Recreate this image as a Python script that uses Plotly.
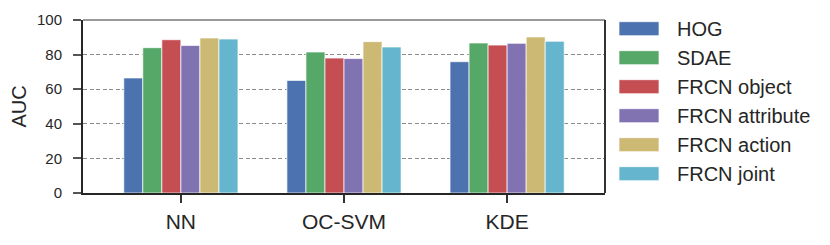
import plotly.graph_objects as go

categories = ["NN", "OC-SVM", "KDE"]
series_names = ["HOG", "SDAE", "FRCN object", "FRCN attribute", "FRCN action", "FRCN joint"]
hog = [66.5, 65.1, 75.9]
sdae = [84.0, 81.5, 86.7]
frcn_object = [88.6, 78.0, 85.5]
frcn_attribute = [85.3, 77.7, 86.5]
frcn_action = [89.6, 87.5, 90.2]
frcn_joint = [89.0, 84.4, 87.7]
series_values = [hog, sdae, frcn_object, frcn_attribute, frcn_action, frcn_joint]
colors = ["#4C72B0", "#55A868", "#C44E52", "#8172B2", "#CCB974", "#64B5CD"]
y_ticks = [0, 20, 40, 60, 80, 100]

FONT = "Liberation Sans, Arial, sans-serif"
OFF = 8  # page body margin
W, H = 830 - OFF, 245 - OFF
L, R, T, B = 83, 605, 20, 193  # plot area in window pixels

fig = go.Figure()
for name, vals, col in zip(series_names, series_values, colors):
    fig.add_trace(go.Bar(
        x=categories, y=vals, name=name,
        marker=dict(color=col, line=dict(color="rgba(255,255,255,0.7)", width=1)),
        showlegend=False,
    ))

def px_x(p):
    return (p - L) / (R - L)

def px_y(p):
    return (B - p) / (B - T)

shapes = []
annotations = []
# top and right spines
shapes.append(dict(type="line", xref="paper", yref="paper", x0=0, x1=1, y0=1, y1=1,
                   line=dict(color="#777777", width=1.5), layer="above"))
shapes.append(dict(type="line", xref="paper", yref="paper", x0=1, x1=1, y0=0, y1=1,
                   line=dict(color="#333333", width=2), layer="above"))
# custom legend
row0, gap = 28.7, 29.0
for i, (name, col) in enumerate(zip(series_names, colors)):
    cy = row0 + i * gap
    shapes.append(dict(type="rect", xref="paper", yref="paper",
                       x0=px_x(619), x1=px_x(659), y0=px_y(cy + 7), y1=px_y(cy - 7),
                       fillcolor=col, line=dict(color="rgba(255,255,255,0.7)", width=1)))
    annotations.append(dict(xref="paper", yref="paper", x=px_x(675), y=px_y(cy),
                            text=name, showarrow=False, xanchor="left", yanchor="middle",
                            font=dict(family=FONT, size=20, color="#262626")))

fig.update_layout(
    width=W, height=H,
    margin=dict(l=L - OFF, r=W + OFF - R, t=T - OFF, b=H + OFF - B, pad=0, autoexpand=False),
    paper_bgcolor="white", plot_bgcolor="white",
    barmode="group", bargap=0.3, bargroupgap=0,
    font=dict(family=FONT, color="#262626"),
    shapes=shapes, annotations=annotations,
    xaxis=dict(
        range=[-0.6, 2.6], showline=True, linecolor="#262626", linewidth=2,
        ticks="outside", ticklen=8, tickwidth=1.5, tickcolor="#333333",
        tickfont=dict(family=FONT, size=21, color="#262626"), ticklabelstandoff=1,
        showgrid=False, zeroline=False,
    ),
    yaxis=dict(
        range=[0, 100], tickvals=y_ticks, showline=True, linecolor="#262626", linewidth=2,
        ticks="outside", ticklen=8, tickwidth=1.5, tickcolor="#555555",
        tickfont=dict(family=FONT, size=15, color="#262626"), ticklabelstandoff=8,
        showgrid=True, gridcolor="#8c8c8c", gridwidth=1, griddash="4px,2.5px",
        zeroline=False,
        title=dict(text="AUC", font=dict(family=FONT, size=20, color="#262626"), standoff=7),
    ),
)

fig.write_html("out.html")
